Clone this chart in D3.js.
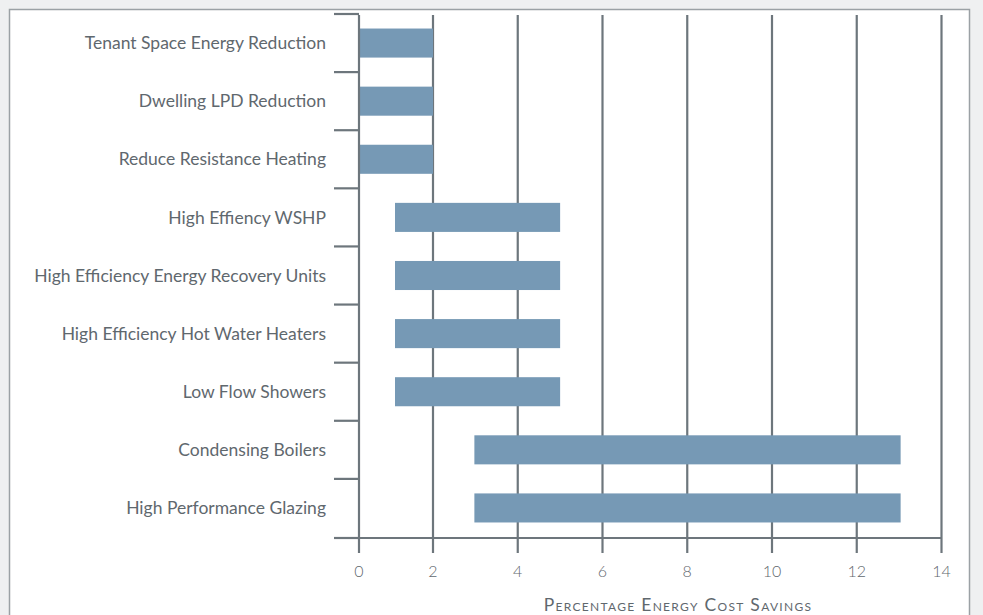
<!DOCTYPE html>
<html><head><meta charset="utf-8">
<script src="https://cdn.jsdelivr.net/npm/d3@7"></script>
<style>
html,body{margin:0;padding:0;background:#eff0f1;}
svg{display:block;}
</style></head>
<body>
<svg id="chart" width="983" height="615"></svg>
<script>
const categories = ["Tenant Space Energy Reduction","Dwelling LPD Reduction","Reduce Resistance Heating","High Effiency WSHP","High Efficiency Energy Recovery Units","High Efficiency Hot Water Heaters","Low Flow Showers","Condensing Boilers","High Performance Glazing"];
const lowValues = [0,0,0,1,1,1,1,3,3];
const highValues = [2,2,2,5,5,5,5,13,13];
const xTicks = [0,2,4,6,8,10,12,14];
const xTitle = "Percentage Energy Cost Savings";

(function(){
const svg = d3.select("#chart");
const axisColor = "#6d767c";
const textColor = "#5f686e";
const font = "Lato, 'Open Sans', sans-serif";

// panel
svg.append("rect").attr("x",9.5).attr("y",9.5).attr("width",960).attr("height",620)
  .attr("fill","#fff").attr("stroke","#9ba1a5").attr("stroke-width",1.5);

// piecewise scale as in the original (first interval narrower)
const x = d3.scaleLinear().domain([0,2,14]).range([359,433,941.5]);
const y = d3.scaleBand().domain(categories).range([14,537]).paddingInner(0.5).paddingOuter(0.25);
const step = y.step();
const yTop = 15, yBottom = 538;

// gridlines
svg.append("g").selectAll("line").data(xTicks.filter(d=>d>0)).join("line")
  .attr("x1",d=>x(d)).attr("x2",d=>x(d)).attr("y1",yTop).attr("y2",yBottom)
  .attr("stroke",axisColor).attr("stroke-width",2.2);

// bars
svg.append("g").selectAll("rect").data(categories).join("rect")
  .attr("x",(d,i)=>Math.max(x(lowValues[i])-1, 360))
  .attr("width",(d,i)=>x(highValues[i]) + (highValues[i] > 10 ? 1.5 : 0) - Math.max(x(lowValues[i])-1, 360))
  .attr("y",d=>y(d)).attr("height",y.bandwidth())
  .attr("fill","#7699b5");

// y axis
svg.append("line").attr("x1",359).attr("x2",359).attr("y1",yTop).attr("y2",yBottom)
  .attr("stroke",axisColor).attr("stroke-width",2.2);
const bounds = categories.map(c=>y(c)-step*0.25).concat([yBottom]);
svg.append("g").selectAll("line").data(bounds).join("line")
  .attr("x1",334).attr("x2",359).attr("y1",d=>d).attr("y2",d=>d)
  .attr("stroke",axisColor).attr("stroke-width",2.2);

svg.append("g").selectAll("text").data(categories).join("text")
  .attr("x",326).attr("y",d=>y(d)+y.bandwidth()/2).attr("dy","0.35em")
  .attr("text-anchor","end").attr("font-family",font).attr("font-size",17.5)
  .attr("fill",textColor).text(d=>d);

// x axis
svg.append("line").attr("x1",334).attr("x2",942).attr("y1",yBottom).attr("y2",yBottom)
  .attr("stroke",axisColor).attr("stroke-width",2.2);
svg.append("g").selectAll("line").data(xTicks).join("line")
  .attr("x1",d=>x(d)).attr("x2",d=>x(d)).attr("y1",yBottom).attr("y2",553)
  .attr("stroke",axisColor).attr("stroke-width",2.2);
svg.append("g").selectAll("text").data(xTicks).join("text")
  .attr("x",d=>x(d)).attr("y",577).attr("text-anchor","middle")
  .attr("font-family",font).attr("font-size",16).attr("font-weight",300)
  .attr("fill","#5f686e").text(d=>d);

svg.append("text").attr("x",678).attr("y",611).attr("text-anchor","middle")
  .attr("font-family",font).attr("font-size",17.5).attr("font-variant","small-caps")
  .attr("letter-spacing",1.3)
  .attr("fill",textColor).text(xTitle);
})();
</script>
</body></html>
